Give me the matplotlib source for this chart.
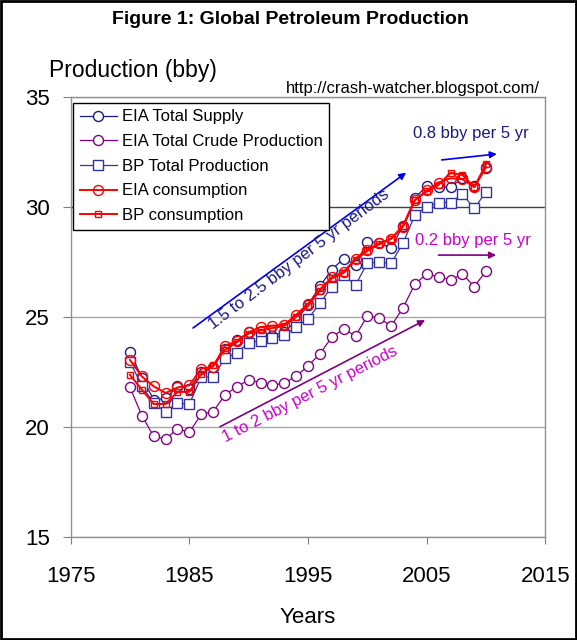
import matplotlib
matplotlib.use("Agg")
import matplotlib.pyplot as plt
from matplotlib.patches import Rectangle

plt.rcParams['font.family'] = ['Liberation Sans', 'DejaVu Sans']

years = list(range(1980, 2011))

eia_supply = [23.40, 22.25, 21.25, 21.30, 21.85, 21.75, 22.50, 22.70, 23.55, 23.95,
              24.30, 24.25, 24.15, 24.30, 24.85, 25.55, 26.40, 27.15, 27.65, 27.38,
              28.42, 28.38, 28.12, 29.15, 30.40, 30.95, 30.90, 30.90, 31.30, 30.95, 31.75]
eia_crude = [21.81, 20.52, 19.58, 19.46, 19.92, 19.77, 20.58, 20.70, 21.46, 21.84,
             22.14, 22.02, 21.91, 21.99, 22.32, 22.78, 23.33, 24.08, 24.46, 24.14,
             25.06, 24.94, 24.59, 25.42, 26.50, 26.95, 26.83, 26.68, 26.95, 26.38, 27.09]
bp_prod = [22.97, 21.88, 21.08, 20.70, 21.08, 21.05, 22.26, 22.29, 23.12, 23.38,
           23.83, 23.92, 24.05, 24.18, 24.56, 24.92, 25.62, 26.38, 26.90, 26.45,
           27.46, 27.48, 27.44, 28.35, 29.63, 30.01, 30.19, 30.19, 30.57, 29.93, 30.69]
eia_cons = [23.05, 22.30, 21.85, 21.55, 21.80, 21.90, 22.65, 22.75, 23.70, 23.90,
            24.30, 24.55, 24.60, 24.65, 25.10, 25.60, 26.25, 26.80, 27.05, 27.65,
            28.05, 28.35, 28.55, 29.10, 30.30, 30.75, 31.10, 31.30, 31.25, 30.90, 31.80]
bp_cons = [22.37, 21.70, 21.05, 21.05, 21.60, 21.60, 22.40, 22.80, 23.50, 23.85,
           24.25, 24.40, 24.50, 24.60, 25.00, 25.50, 26.20, 26.75, 27.00, 27.60,
           28.00, 28.30, 28.55, 29.15, 30.30, 30.70, 31.00, 31.55, 31.45, 30.90, 31.95]

series_labels = ["EIA Total Supply", "EIA Total Crude Production", "BP Total Production",
                 "EIA consumption", "BP consumption"]
x_ticks = [1975, 1985, 1995, 2005, 2015]
y_ticks = [15, 20, 25, 30, 35]

fig = plt.figure(figsize=(5.77, 6.40), dpi=100)
ax = fig.add_axes([0.1224, 0.1605, 0.8230, 0.6884])

navy = '#1a1a80'
purple = '#800080'
bpblue = '#3333a0'
red = '#ff0000'

ax.plot(years, eia_supply, color=navy, lw=0.9, marker='o', ms=7.2, mfc='white',
        mec=navy, mew=1.0, label=series_labels[0], zorder=3)
ax.plot(years, eia_crude, color=purple, lw=0.9, marker='o', ms=7.2, mfc='white',
        mec=purple, mew=1.0, label=series_labels[1], zorder=3)
ax.plot(years, bp_prod, color=bpblue, lw=0.9, marker='s', ms=7.2, mfc='white',
        mec=bpblue, mew=1.0, label=series_labels[2], zorder=3)
ax.plot(years, eia_cons, color=red, lw=1.4, marker='o', ms=7.2, mfc='none',
        mec=red, mew=1.0, label=series_labels[3], zorder=4)
ax.plot(years, bp_cons, color=red, lw=1.4, marker='s', ms=4.5, mfc='none',
        mec=red, mew=1.0, label=series_labels[4], zorder=4)

ax.set_xlim(1975, 2015)
ax.set_ylim(15, 35)
ax.set_xticks(x_ticks)
ax.set_yticks(y_ticks)
ax.tick_params(axis='both', labelsize=16, colors='#808080', labelcolor='black')
ax.tick_params(axis='y', length=6, pad=9)
ax.tick_params(axis='x', length=5, pad=16)
for s in ax.spines.values():
    s.set_color('#909090')
    s.set_linewidth(1.0)

ax.yaxis.grid(True, color='#a8a8a8', lw=1.0)
ax.set_axisbelow(True)
gls = ax.get_ygridlines()
gls[3].set_color('#404040')

ax.set_xlabel('Years', fontsize=16)
ax.xaxis.set_label_coords(0.5, -0.183)
ax.xaxis.label.set_va('center')
ax.set_ylabel('Production (bby)', fontsize=16.5, rotation=0, ha='center', va='center')
ax.yaxis.set_label_coords(0.1314, 1.0606)

fig.text(290 / 577, 1 - 19 / 640, 'Figure 1: Global Petroleum Production',
         ha='center', va='center', fontsize=14, fontweight='bold')
ax.text(0.9884, 1.0197, 'http://crash-watcher.blogspot.com/', transform=ax.transAxes,
        ha='right', va='center', fontsize=12)

leg = ax.legend(loc='upper left', bbox_to_anchor=(0.0057, 0.9864), borderaxespad=0,
                fontsize=12, frameon=True, fancybox=False, edgecolor='black',
                framealpha=1, handlelength=2.2, handletextpad=0.3,
                labelspacing=0.58, borderpad=0.4, numpoints=1)
leg.get_frame().set_linewidth(1.0)

# annotations
arrow_blue = '#0000ee'
ax.annotate('', xy=(2003.26, 31.55), xytext=(1985.31, 24.50),
            arrowprops=dict(arrowstyle='-|>', color=arrow_blue, lw=1.2,
                            mutation_scale=10, shrinkA=0, shrinkB=0))
ax.text(1994.2, 27.6, '1.5 to 2.5 bby per 5 yr periods', rotation=37,
        rotation_mode='anchor', ha='center', va='center', fontsize=12, color=navy)
ax.annotate('', xy=(2010.9, 32.40), xytext=(2006.26, 32.13),
            arrowprops=dict(arrowstyle='-|>', color=arrow_blue, lw=1.2,
                            mutation_scale=10, shrinkA=0, shrinkB=0))
ax.text(2008.7, 33.35, '0.8 bby per 5 yr', ha='center', va='center',
        fontsize=12, color=navy)

ax.annotate('', xy=(2004.86, 24.86), xytext=(1987.59, 20.02),
            arrowprops=dict(arrowstyle='-|>', color=purple, lw=1.2,
                            mutation_scale=10, shrinkA=0, shrinkB=0))
ax.text(1995.2, 21.5, '1 to 2 bby per 5 yr periods', rotation=27,
        rotation_mode='anchor', ha='center', va='center', fontsize=12, color='#cc00cc')
ax.annotate('', xy=(2010.84, 27.81), xytext=(2005.98, 27.81),
            arrowprops=dict(arrowstyle='-|>', color=purple, lw=1.2,
                            mutation_scale=10, shrinkA=0, shrinkB=0))
ax.text(2008.93, 28.49, '0.2 bby per 5 yr', ha='center', va='center',
        fontsize=12, color='#cc00cc')

fig.patches.append(Rectangle((0.001, 0.001), 0.997, 0.997, transform=fig.transFigure,
                             fill=False, edgecolor='black', lw=2))

fig.savefig('out.png', dpi=100)
